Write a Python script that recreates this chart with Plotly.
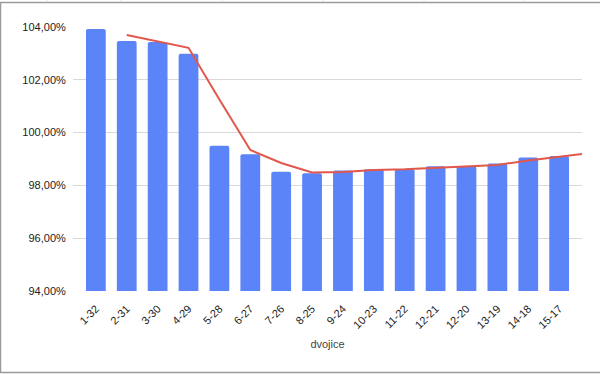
import plotly.graph_objects as go

categories = ["1-32", "2-31", "3-30", "4-29", "5-28", "6-27", "7-26", "8-25",
              "9-24", "10-23", "11-22", "12-21", "12-20", "13-19", "14-18", "15-17"]
values_pct = [103.92, 103.47, 103.43, 102.99, 99.50, 99.18, 98.52, 98.46,
              98.56, 98.61, 98.61, 98.73, 98.72, 98.83, 99.06, 99.11]
# trend line (2-point moving average as drawn), starting at the 2nd category
trend_pct = [103.70, 103.45, 103.21, 101.25, 99.34, 98.85, 98.49, 98.51,
             98.585, 98.61, 98.665, 98.725, 98.775, 98.945, 99.085]
y_ticks_pct = [94, 96, 98, 100, 102, 104]
x_title = "dvojice"

bar_color = "#5b84f8"
line_color = "#e2574c"

n = len(categories)
xs = list(range(n))
pad = 0.24
x_range = [-0.5 - pad, n - 0.5 + pad]

values = [v / 100 for v in values_pct]
trend = [v / 100 for v in trend_pct]
tx = list(range(1, 1 + len(trend)))
# extend last segment linearly to the edge of the plot area
slope = (trend[-1] - trend[-2]) / (tx[-1] - tx[-2])
tx_ext = tx + [x_range[1]]
ty_ext = trend + [trend[-1] + slope * (x_range[1] - tx[-1])]

fig = go.Figure()
fig.add_trace(go.Bar(x=xs, y=values, width=0.64,
                     marker=dict(color=bar_color, cornerradius=2,
                                 line=dict(width=0)),
                     hoverinfo="skip"))
fig.add_trace(go.Scatter(x=tx_ext, y=ty_ext, mode="lines",
                         line=dict(color=line_color, width=2),
                         hoverinfo="skip"))

font_family = "Liberation Sans, Arial, sans-serif"
L, R, T, B = 73, 18, 27, 83
W, H = 600, 374
pw, ph = W - L - R, H - T - B

def px_x(p):
    return (p - L) / pw

def px_y(p):
    return (H - B - p) / ph

shapes = []
# outer frame (embedded chart border)
frame = dict(type="rect", xref="paper", yref="paper",
             x0=px_x(0.5), x1=px_x(602), y0=px_y(372.5), y1=px_y(2.5),
             line=dict(color="#9a9a9a", width=1.5), layer="above")
shapes.append(frame)
for gx in [47, 121, 222, 323, 424, 524]:
    shapes.append(dict(type="line", xref="paper", yref="paper",
                       x0=px_x(gx), x1=px_x(gx), y0=px_y(0), y1=px_y(2),
                       line=dict(color="#e2e2e2", width=1)))

fig.update_layout(
    width=W, height=H,
    margin=dict(l=L, r=R, t=T, b=B),
    paper_bgcolor="white", plot_bgcolor="white",
    showlegend=False,
    separators=", ",
    font=dict(family=font_family, size=11, color="#333333"),
    bargap=0.36,
    shapes=shapes,
    xaxis=dict(range=x_range, tickmode="array", tickvals=xs, ticktext=categories,
               tickangle=-45, showgrid=False, zeroline=False, showline=False,
               ticks="outside", ticklen=6, tickcolor="rgba(0,0,0,0)",
               tickfont=dict(size=11, color="#222222"),
               title=dict(text=x_title, font=dict(size=11, color="#444444"),
                          standoff=10),
               fixedrange=True),
    yaxis=dict(range=[y_ticks_pct[0] / 100, y_ticks_pct[-1] / 100],
               tickmode="array", tickvals=[t / 100 for t in y_ticks_pct],
               tickformat=".2%", showgrid=True, gridcolor="#d9d9d9",
               gridwidth=1, zeroline=False, showline=False,
               ticks="outside", ticklen=4, tickcolor="rgba(0,0,0,0)",
               tickfont=dict(size=11, color="#222222"), fixedrange=True),
)

fig.write_html("out.html", config={"displayModeBar": False},
               post_script="document.body.style.margin='0';document.body.style.overflow='hidden';")
